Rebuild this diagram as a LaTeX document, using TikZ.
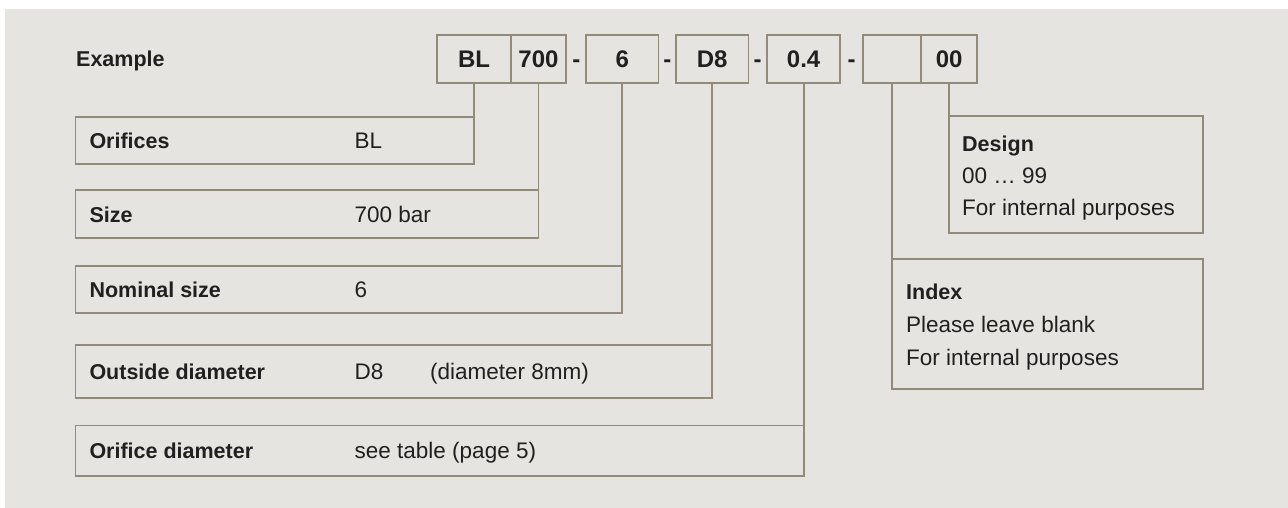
\documentclass[tikz,border=0pt]{standalone}
\usepackage{fontspec}
\setmainfont{Liberation Sans}
\definecolor{bg}{HTML}{E5E4E0}
\definecolor{ln}{HTML}{928A7B}
\definecolor{tx}{HTML}{231F20}
\tikzset{
  box/.style={draw=ln, line width=1.7pt, inner sep=0pt, outer sep=0pt, rectangle},
  lab/.style={anchor=base west, inner sep=0pt, font=\fontsize{21.5}{24}\selectfont\bfseries, text=tx},
  val/.style={anchor=base west, inner sep=0pt, font=\fontsize{22.5}{26}\selectfont, text=tx},
  codetxt/.style={anchor=base, inner sep=0pt, font=\fontsize{24}{26}\selectfont\bfseries, text=tx},
  conn/.style={draw=ln, line width=1.7pt},
}
\newcommand{\mkbox}[5]{\node[box, minimum width={#4-#2}, minimum height={#5-#3}] (#1) at ({(#2+#4)/2},{(#3+#5)/2}) {};}
\begin{document}
\begin{tikzpicture}[x=1pt,y=-1pt]
\fill[white] (0,0) rectangle (1288,508);
\fill[bg] (5,9) rectangle (1288,508);
\useasboundingbox (0,0) rectangle (1288,508);

% code boxes
\mkbox{cBL}{437}{35}{511}{83.3}
\mkbox{cSize}{511}{35}{566}{83.3}
\mkbox{cNom}{586}{35}{658.6}{83.3}
\mkbox{cOut}{676}{35}{748.5}{83.3}
\mkbox{cOri}{767}{35}{840.3}{83.3}
\mkbox{cIdx}{863}{35}{921.3}{83.3}
\mkbox{cDes}{921.3}{35}{977}{83.3}

\node[lab] (ex) at (76,66.7) {Example};
\node[codetxt] (tBL) at (474,67.3) {BL};
\node[codetxt] (tSize) at (538.5,67.3) {700};
\node[codetxt] (d1) at (576.3,67.3) {-};
\node[codetxt] (tNom) at (622.3,67.3) {6};
\node[codetxt] (d2) at (667.3,67.3) {-};
\node[codetxt] (tOut) at (712.25,67.3) {D8};
\node[codetxt] (d3) at (757.6,67.3) {-};
\node[codetxt] (tOri) at (803.65,67.3) {0.4};
\node[codetxt] (d4) at (851.5,67.3) {-};
\node[codetxt] (tDes) at (949.15,67.3) {00};

% label boxes
\mkbox{bOrif}{75.5}{116.7}{474}{164.3}
\mkbox{bSize}{75.5}{190}{538.5}{238.3}
\mkbox{bNom}{75.5}{265.7}{622.3}{313.3}
\mkbox{bOut}{75.5}{345}{712.25}{398.3}
\mkbox{bOri}{75.5}{425.5}{803.65}{476}
\mkbox{bDes}{949.15}{115.7}{1203.3}{233.3}
\mkbox{bIdx}{892.15}{259.3}{1203.3}{388.7}

% connectors
\draw[conn] (cBL.south) -- (cBL.south |- bOrif.north);
\draw[conn] (cSize.south) -- (cSize.south |- bSize.north);
\draw[conn] (cNom.south) -- (cNom.south |- bNom.north);
\draw[conn] (cOut.south) -- (cOut.south |- bOut.north);
\draw[conn] (cOri.south) -- (cOri.south |- bOri.north);
\draw[conn] (cIdx.south) -- (cIdx.south |- bIdx.north);
\draw[conn] (cDes.south) -- (cDes.south |- bDes.north);

% label texts
\node[lab] (l1) at (89.3,148.3) {Orifices};
\node[val] (v1) at (354.5,148.3) {BL};
\node[lab] (l2) at (89.3,222.7) {Size};
\node[val] (v2) at (354.5,222.7) {700 bar};
\node[lab] (l3) at (89.3,297.3) {Nominal size};
\node[val] (v3) at (354.5,297.3) {6};
\node[lab] (l4) at (89.3,379.3) {Outside diameter};
\node[val] (v4) at (354.5,379.3) {D8};
\node[val] (v4b) at (430,379.3) {(diameter 8mm)};
\node[lab] (l5) at (89.3,458.3) {Orifice diameter};
\node[val] (v5) at (354.5,458.3) {see table (page 5)};

\node[lab] (ld) at (962,151.7) {Design};
\node[val] (vd1) at (962,183.3) {00 … 99};
\node[val] (vd2) at (962,215) {For internal purposes};
\node[lab] (li) at (906,299.3) {Index};
\node[val] (vi1) at (906,332.3) {Please leave blank};
\node[val] (vi2) at (906,365) {For internal purposes};
\end{tikzpicture}
\end{document}
